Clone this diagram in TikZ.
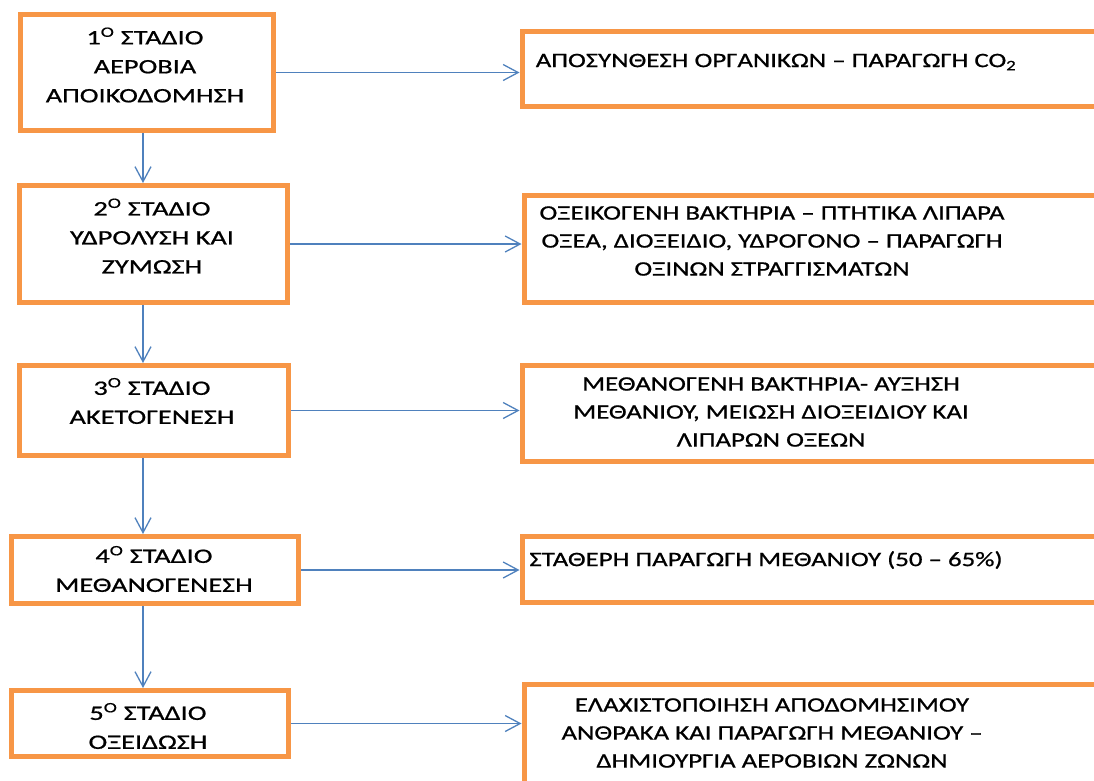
\documentclass[tikz,border=0pt]{standalone}
\usepackage{fontspec}
\setmainfont{Carlito}[FakeStretch=1.38, FakeBold=0.8]
\newfontfamily\notefont{Carlito}[FakeStretch=1.31, FakeBold=0.8]
\usetikzlibrary{arrows.meta, positioning}
\definecolor{stageorange}{HTML}{F79646}
\definecolor{linkblue}{HTML}{4F81BD}

\begin{document}
\begin{tikzpicture}[
  x=1pt, y=-1pt,
  font=\fontsize{20.5}{29}\selectfont,
  stage/.style={draw=stageorange, line width=5pt, inner sep=0pt},
  result/.style={draw=stageorange, line width=5pt, minimum width=600pt, inner sep=0pt, anchor=west},
  caption/.style={align=center},
  note/.style={align=center, font=\notefont\fontsize{20.5}{28}\selectfont},
  arr/.style={draw=linkblue, line width=1.3pt, -{Straight Barb[length=15pt, width=16pt]}}
]
\useasboundingbox (0,0) rectangle (1094,780);
\coordinate (spine) at (143,0);

% stages
\node[stage, minimum width=253, minimum height=116] (s1) at (147,72.5) {};
\node[stage, minimum width=268, minimum height=117] (s2) at (153.5,244) {};
\node[stage, minimum width=269, minimum height=90] (s3) at (154,410.5) {};
\node[stage, minimum width=287, minimum height=67] (s4) at (155,570) {};
\node[stage, minimum width=277, minimum height=66] (s5) at (150,723.5) {};

\node[caption] (l1) at (145,65) {1\textsuperscript{O} ΣΤΑΔΙΟ\\ΑΕΡΟΒΙΑ\\ΑΠΟΙΚΟΔΟΜΗΣΗ};
\node[caption] (l2) at (152,236) {2\textsuperscript{O} ΣΤΑΔΙΟ\\ΥΔΡΟΛΥΣΗ ΚΑΙ\\ΖΥΜΩΣΗ};
\node[caption] (l3) at (152,401) {3\textsuperscript{O} ΣΤΑΔΙΟ\\ΑΚΕΤΟΓΕΝΕΣΗ};
\node[caption] (l4) at (154,569) {4\textsuperscript{O} ΣΤΑΔΙΟ\\ΜΕΘΑΝΟΓΕΝΕΣΗ};
\node[caption] (l5) at (148,726) {5\textsuperscript{O} ΣΤΑΔΙΟ\\ΟΞΕΙΔΩΣΗ};

% results
\node[result, minimum height=75] (r1) at (519.5,69) {};
\node[result, minimum height=107] (r2) at (521.5,249) {};
\node[result, minimum height=96] (r3) at (519.5,413.5) {};
\node[result, minimum height=66] (r4) at (519.5,569.5) {};
\node[result, minimum height=113] (r5) at (521.5,741) {};

\node[note] (t1) at (776,62) {ΑΠΟΣΥΝΘΕΣΗ ΟΡΓΑΝΙΚΩΝ – ΠΑΡΑΓΩΓΗ CO\textsubscript{2}};
\node[note] (t2) at (772,241) {ΟΞΕΙΚΟΓΕΝΗ ΒΑΚΤΗΡΙΑ – ΠΤΗΤΙΚΑ ΛΙΠΑΡΑ\\ΟΞΕΑ, ΔΙΟΞΕΙΔΙΟ, ΥΔΡΟΓΟΝΟ – ΠΑΡΑΓΩΓΗ\\ΟΞΙΝΩΝ ΣΤΡΑΓΓΙΣΜΑΤΩΝ};
\node[note] (t3) at (771,412) {ΜΕΘΑΝΟΓΕΝΗ ΒΑΚΤΗΡΙΑ- ΑΥΞΗΣΗ\\ΜΕΘΑΝΙΟΥ, ΜΕΙΩΣΗ ΔΙΟΞΕΙΔΙΟΥ ΚΑΙ\\ΛΙΠΑΡΩΝ ΟΞΕΩΝ};
\node[note] (t4) at (766,560) {ΣΤΑΘΕΡΗ ΠΑΡΑΓΩΓΗ ΜΕΘΑΝΙΟΥ (50 – 65\%)};
\node[note] (t5) at (772,733) {ΕΛΑΧΙΣΤΟΠΟΙΗΣΗ ΑΠΟΔΟΜΗΣΙΜΟΥ\\ΑΝΘΡΑΚΑ ΚΑΙ ΠΑΡΑΓΩΓΗ ΜΕΘΑΝΙΟΥ –\\ΔΗΜΙΟΥΡΓΙΑ ΑΕΡΟΒΙΩΝ ΖΩΝΩΝ};

% links
\draw[arr] (s1.south -| spine) -- (s2.north -| spine);
\draw[arr] (s2.south -| spine) -- (s3.north -| spine);
\draw[arr] (s3.south -| spine) -- (s4.north -| spine);
\draw[arr] (s4.south -| spine) -- (s5.north -| spine);

\draw[arr] (s1.east) -- (s1.east -| r1.west);
\draw[arr] (s2.east) -- (s2.east -| r2.west);
\draw[arr] (s3.east) -- (s3.east -| r3.west);
\draw[arr] (s4.east) -- (s4.east -| r4.west);
\draw[arr] (s5.east) -- (s5.east -| r5.west);
\end{tikzpicture}
\end{document}
